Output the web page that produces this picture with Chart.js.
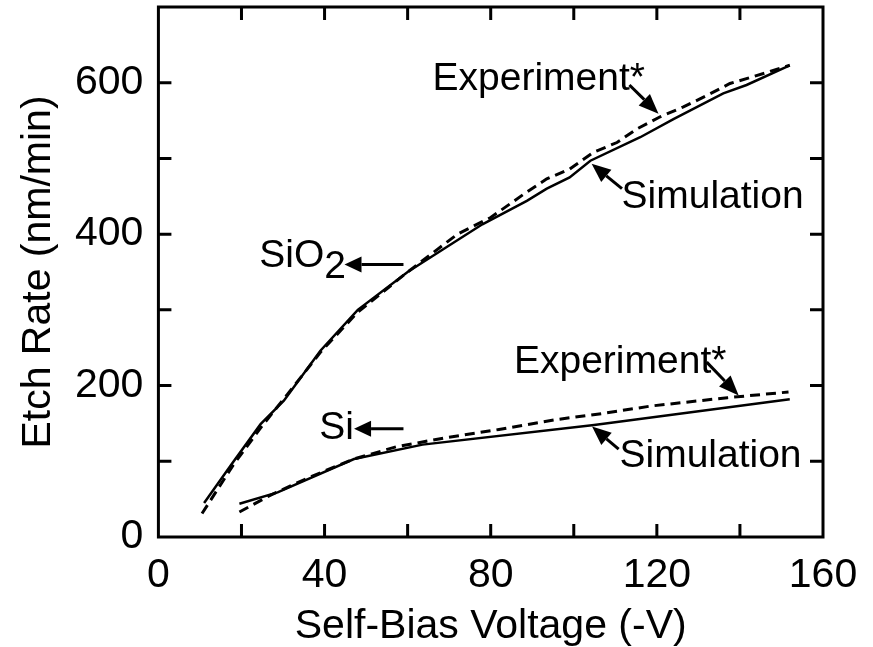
<!DOCTYPE html>
<html>
<head>
<meta charset="utf-8">
<script src="https://cdn.jsdelivr.net/npm/chart.js@4.4.1/dist/chart.umd.min.js"></script>
<style>
  html, body { margin: 0; padding: 0; background: #fff; }
  #wrap { width: 873px; height: 647px; }
</style>
</head>
<body>
<div id="wrap"><canvas id="etchChart" width="873" height="647"></canvas></div>
<script>
// Datos (Self-Bias Voltage en -V, Etch Rate en nm/min)
const sio2SimX = [11, 18, 24.6, 30.2, 39, 48, 60, 68, 78, 88.7, 93.5, 99, 104, 116, 124, 136, 141.6, 152];
const sio2SimY = [45, 99, 149, 180, 246, 300, 350, 378, 413, 444, 460, 475, 497, 528, 552, 586, 597, 623];

const sio2ExpX = [10.5, 18, 25, 31, 39, 48, 60, 72, 80, 88, 93.5, 99, 104.7, 110.4, 115.2, 120.8, 126.4, 132, 137.6, 143.2, 152];
const sio2ExpY = [31, 95, 147, 188, 244, 297, 350, 400, 422, 453, 473, 486, 508, 521, 539, 555, 568, 583, 599, 608, 623];

const siSimX = [19.5, 28.7, 47.1, 63.6, 104.9, 152];
const siSimY = [44, 59, 103, 122, 148, 182];

const siExpX = [19.5, 26.9, 36, 47, 57.2, 69, 82, 95.7, 106.7, 118.6, 137, 151.7];
const siExpY = [33, 55, 78, 103, 119, 131, 142, 155, 163, 173, 184, 191.5];

const xTicks = [0, 40, 80, 120, 160];
const yTicks = [0, 200, 400, 600];

const FONT = "'Liberation Sans', Arial, Helvetica, sans-serif";
const FS = 41;      // ejes
const FS_ANOT = 39; // anotaciones

function puntos(xs, ys) {
    return xs.map((x, i) => ({ x: x, y: ys[i] }));
}

// Marco, marcas hacia dentro y anotaciones
const marcoPlugin = {
    id: 'marco',
    afterDatasetsDraw(chart) {
        const ctx = chart.ctx;
        const a = chart.chartArea;
        const sx = chart.scales.x;
        const sy = chart.scales.y;
        const tl = 13;

        ctx.save();
        ctx.strokeStyle = '#000';
        ctx.lineWidth = 3;
        ctx.strokeRect(a.left, a.top, a.right - a.left, a.bottom - a.top);

        ctx.lineWidth = 3;
        ctx.beginPath();
        for (let v = 20; v < 160; v += 20) {
            const px = sx.getPixelForValue(v);
            ctx.moveTo(px, a.bottom); ctx.lineTo(px, a.bottom - tl);
            ctx.moveTo(px, a.top); ctx.lineTo(px, a.top + tl);
        }
        for (let v = 100; v < 700; v += 100) {
            const py = sy.getPixelForValue(v);
            ctx.moveTo(a.left, py); ctx.lineTo(a.left + tl, py);
            ctx.moveTo(a.right, py); ctx.lineTo(a.right - tl, py);
        }
        ctx.stroke();

        // textos
        ctx.fillStyle = '#000';
        ctx.font = FS_ANOT + 'px ' + FONT;
        ctx.textBaseline = 'alphabetic';
        ctx.textAlign = 'left';
        const X = v => sx.getPixelForValue(v);
        const Y = v => sy.getPixelForValue(v);

        ctx.fillText('Experiment*', X(66), Y(590));
        ctx.fillText('Simulation', X(111.5), Y(435));
        ctx.fillText('Experiment*', X(85.6), Y(217));
        ctx.fillText('Simulation', X(111), Y(92));

        // SiO2 con subíndice
        ctx.fillText('SiO', X(24.3), Y(357));
        const w = ctx.measureText('SiO').width;
        ctx.fillText('2', X(24.3) + w, Y(357) + 11);
        ctx.fillText('Si', X(38.7), Y(130));

        // flechas
        function flecha(x1, y1, x2, y2, L, W) {
            const ang = Math.atan2(y2 - y1, x2 - x1);
            const bx = x2 - L * Math.cos(ang), by = y2 - L * Math.sin(ang);
            ctx.lineWidth = 3;
            ctx.beginPath();
            ctx.moveTo(x1, y1);
            ctx.lineTo(bx, by);
            ctx.stroke();
            ctx.beginPath();
            ctx.moveTo(x2, y2);
            ctx.lineTo(bx + W * Math.sin(ang), by - W * Math.cos(ang));
            ctx.lineTo(bx - W * Math.sin(ang), by + W * Math.cos(ang));
            ctx.closePath();
            ctx.fill();
        }
        flecha(X(113.4), Y(597), X(120.4), Y(559), 20, 8);
        flecha(X(111.6), Y(460), X(104.3), Y(493), 19, 8);
        flecha(X(132), Y(231), X(139.7), Y(187), 20, 8);
        flecha(X(110.8), Y(116), X(104.4), Y(146), 19, 8);
        flecha(X(59), Y(360), X(44.8), Y(360), 17, 8);
        flecha(X(59), Y(143), X(47.1), Y(143), 17, 8);
        ctx.restore();
    }
};

const lineaSolida = { borderColor: '#000', borderWidth: 2.5, pointRadius: 0, tension: 0, fill: false, showLine: true };
const lineaDiscontinua = { borderColor: '#000', borderWidth: 3, borderDash: [10, 6], pointRadius: 0, tension: 0, fill: false, showLine: true };

new Chart(document.getElementById('etchChart').getContext('2d'), {
    type: 'scatter',
    data: {
        datasets: [
            Object.assign({ label: 'SiO2 Simulation', data: puntos(sio2SimX, sio2SimY) }, lineaSolida),
            Object.assign({ label: 'SiO2 Experiment*', data: puntos(sio2ExpX, sio2ExpY) }, lineaDiscontinua),
            Object.assign({ label: 'Si Simulation', data: puntos(siSimX, siSimY) }, lineaSolida),
            Object.assign({ label: 'Si Experiment*', data: puntos(siExpX, siExpY) }, lineaDiscontinua)
        ]
    },
    options: {
        responsive: false,
        animation: false,
        layout: { padding: { top: 7, right: 50, bottom: 0, left: 2 } },
        plugins: {
            legend: { display: false },
            tooltip: { enabled: false }
        },
        scales: {
            x: {
                type: 'linear',
                min: 0, max: 160,
                grid: { display: false, drawTicks: false },
                border: { display: false },
                afterBuildTicks: s => { s.ticks = xTicks.map(v => ({ value: v })); },
                afterFit: s => { s.paddingLeft = 0; s.paddingRight = 0; },
                ticks: { color: '#000', padding: 18, maxRotation: 0, font: { family: FONT, size: FS, lineHeight: 1 } },
                title: { display: true, text: 'Self-Bias Voltage (-V)', color: '#000', padding: { top: -8, bottom: 0 }, font: { family: FONT, size: FS, lineHeight: 1 } }
            },
            y: {
                type: 'linear',
                min: 0, max: 700,
                grid: { display: false, drawTicks: false },
                border: { display: false },
                afterBuildTicks: s => { s.ticks = yTicks.map(v => ({ value: v })); },
                afterFit: s => { s.paddingTop = 0; s.paddingBottom = 0; },
                ticks: { color: '#000', padding: 15, font: { family: FONT, size: FS, lineHeight: 1 } },
                title: { display: true, text: 'Etch Rate (nm/min)', color: '#000', padding: { top: 16, bottom: 1 }, font: { family: FONT, size: FS, lineHeight: 1 } }
            }
        }
    },
    plugins: [marcoPlugin]
});
</script>
</body>
</html>
